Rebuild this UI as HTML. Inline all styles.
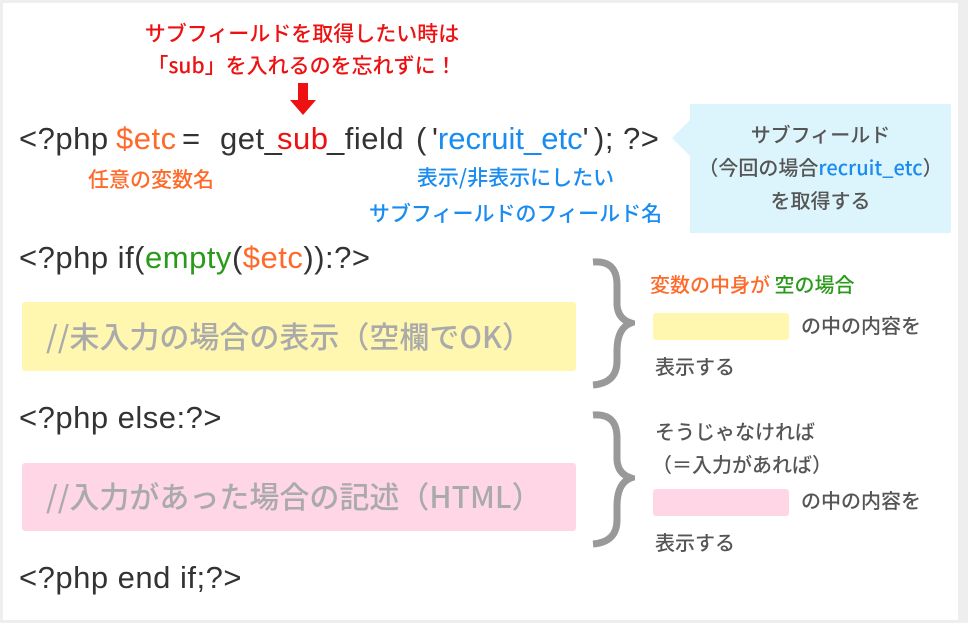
<!DOCTYPE html>
<html><head><meta charset="utf-8"><style>
body{margin:0;width:968px;height:623px;background:#eeeeee;position:relative;overflow:hidden;font-family:"Liberation Sans","Noto Sans CJK JP",sans-serif;}
.w{position:absolute;left:3px;top:3px;width:955px;height:617px;background:#fff;}
.a{position:absolute;white-space:pre;line-height:1;}
.c{font-size:31px;color:#333;letter-spacing:0.5px}
.j{font-family:"Noto Sans CJK JP","Liberation Sans",sans-serif;font-weight:bold;}
.r{font-size:20px;color:#555;font-weight:500}
</style></head><body>
<div class="w"></div>
<div class="a j" style="left:0;width:604px;top:17px;text-align:center;font-size:21px;color:#ee1111;line-height:32px;font-weight:500">サブフィールドを取得したい時は<br>「sub」を入れるのを忘れずに！</div>
<svg class="a" style="left:290px;top:83px" width="26" height="34"><rect x="8" y="0" width="10" height="18" fill="#ee1111"/><polygon points="0,17 26,17 13,32" fill="#ee1111"/></svg>

<div class="a c" style="left:19px;top:123px">&lt;?php</div>
<div class="a c" style="left:116px;top:123px;color:#ff6a2a">$etc</div>
<div class="a c" style="left:182px;top:123px">=</div>
<div class="a c" style="left:220px;top:123px">get_</div>
<div class="a c" style="left:277px;top:123px;color:#ee1111">sub</div>
<div class="a c" style="left:327px;top:123px">_field</div>
<div class="a c" style="left:416px;top:123px">(</div>
<div class="a c" style="left:432px;top:123px;letter-spacing:0">'<span style="color:#1a8cf0">recruit_etc</span>'</div>
<div class="a c" style="left:594px;top:123px">); ?&gt;</div>

<div class="a j" style="left:88px;top:169px;font-size:21px;color:#ff6a2a;font-weight:500">任意の変数名</div>
<div class="a j" style="left:352px;top:159px;width:327px;text-align:center;font-size:21px;color:#1a8cf0;line-height:36px;font-weight:500">表示/非表示にしたい<br>サブフィールドのフィールド名</div>

<svg class="a" style="left:670px;top:104px" width="290" height="132"><polygon points="20,0 281,0 281,129 20,129 20,52 2,34 20,16" fill="#dcf5fc"/></svg>
<div class="a j r" style="left:690px;top:117px;width:261px;text-align:center;line-height:33px">サブフィールド<br>（今回の場合<span style="color:#1a8cf0">recruit_etc</span>）<br>を取得する</div>

<div class="a c" style="left:19px;top:242px">&lt;?php if(<span style="color:#2a9a1a">empty</span>(<span style="color:#ff6a2a">$etc</span>)):?&gt;</div>
<div class="a" style="left:22px;top:302px;width:554px;height:69px;background:#fff6b0;border-radius:3px"></div>
<div class="a j" style="left:46px;top:320px;font-size:30px;color:#aaa;font-weight:500">//未入力の場合の表示（空欄でOK）</div>
<div class="a c" style="left:19px;top:402px">&lt;?php else:?&gt;</div>
<div class="a" style="left:22px;top:463px;width:554px;height:68px;background:#ffd6e6;border-radius:3px"></div>
<div class="a j" style="left:46px;top:480px;font-size:30px;color:#aaa;font-weight:500">//入力があった場合の記述（HTML）</div>
<div class="a c" style="left:19px;top:562px">&lt;?php end if;?&gt;</div>

<svg class="a" style="left:590px;top:255px" width="45" height="135">
<path d="M3,7 Q27,5 27,30 L27,50 Q28,64 41,68 Q27,73 27,96 L27,106 Q27,128 3,130" fill="none" stroke="#999" stroke-width="7"/>
</svg>
<svg class="a" style="left:590px;top:408px" width="45" height="145">
<path d="M3,7 Q27,5 27,30 L27,52 Q28,66 41,70 Q27,75 27,98 L27,112 Q27,134 3,136" fill="none" stroke="#999" stroke-width="7"/>
</svg>

<div class="a j" style="left:650px;top:274px;font-size:20px;color:#ff6a2a;font-weight:500">変数の中身が <span style="color:#2a9a1a">空の場合</span></div>
<div class="a" style="left:653px;top:313px;width:136px;height:27px;background:#fff6b0;border-radius:3px"></div>
<div class="a j r" style="left:801px;top:315px">の中の内容を</div>
<div class="a j r" style="left:655px;top:356px">表示する</div>
<div class="a j r" style="left:655px;top:421px">そうじゃなければ</div>
<div class="a j r" style="left:652px;top:454px">（＝入力があれば）</div>
<div class="a" style="left:653px;top:489px;width:136px;height:27px;background:#ffd6e6;border-radius:3px"></div>
<div class="a j r" style="left:801px;top:490px">の中の内容を</div>
<div class="a j r" style="left:655px;top:532px">表示する</div>
</body></html>
